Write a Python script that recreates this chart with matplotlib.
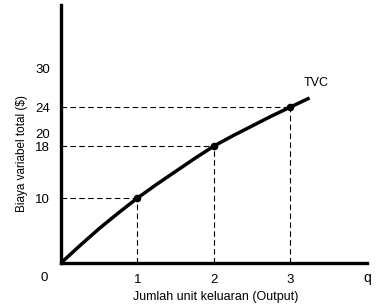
import matplotlib
matplotlib.use("Agg")
from matplotlib import pyplot as plt

plt.rcParams['font.family'] = ['Liberation Sans', 'DejaVu Sans']

# kurva TVC
curve_q = [0, 0.25, 0.5, 0.75, 1, 1.25, 1.5, 1.75, 2, 2.25, 2.5, 2.75, 3, 3.25]
curve_tvc = [0, 2.7, 5.3, 7.7, 10, 12.1, 14.1, 16.1, 18, 19.6, 21.1, 22.6, 24, 25.4]

# titik-titik yang ditandai
points_q = [1, 2, 3]
points_tvc = [10, 18, 24]

y_ticks = [10, 18, 20, 24, 30]
x_ticks = [1, 2, 3]

fig = plt.figure(figsize=(3.81, 3.06), dpi=100)
ax = fig.add_axes([0.160, 0.1405, 0.803, 0.843])

ax.plot(curve_q, curve_tvc, c='black', lw=2.5, solid_capstyle='butt',
        solid_joinstyle='round', zorder=3)
ax.scatter(points_q, points_tvc, s=20, c='black', zorder=4)

# garis putus-putus ke sumbu
for q, c in zip(points_q, points_tvc):
    ax.plot([0, q], [c, c], c='black', lw=0.8, ls=(0, (5, 3)))
    ax.plot([q, q], [0, c], c='black', lw=0.8, ls=(0, (5, 3)))

ax.text(3.34, 27.7, "TVC", fontsize=9, ha='center', va='center')

ax.set_xlim(0, 4.0)
ax.set_ylim(0, 39.7)
ax.set_xticks(x_ticks)
ax.set_yticks(y_ticks)
ax.tick_params(axis='both', length=0, labelsize=9.5, pad=8)
ax.set_xticklabels([str(v) for v in x_ticks])
ax.set_yticklabels([str(v) for v in y_ticks])

for s in ['top', 'right']:
    ax.spines[s].set_visible(False)
for s in ['left', 'bottom']:
    ax.spines[s].set_linewidth(2.4)

# label 0 dan q
ax.text(-0.22, -2.3, "0", fontsize=9.5, ha='center', va='center')
ax.text(4.0, -2.3, "q", fontsize=10, ha='center', va='center')

fig.text(0.565, 0.03, "Jumlah unit keluaran (Output)", fontsize=9, ha='center', va='center')
fig.text(0.058, 0.497, "Biaya variabel total ($)", fontsize=8.5, ha='center', va='center', rotation=90)

fig.savefig("out.png", dpi=100)
